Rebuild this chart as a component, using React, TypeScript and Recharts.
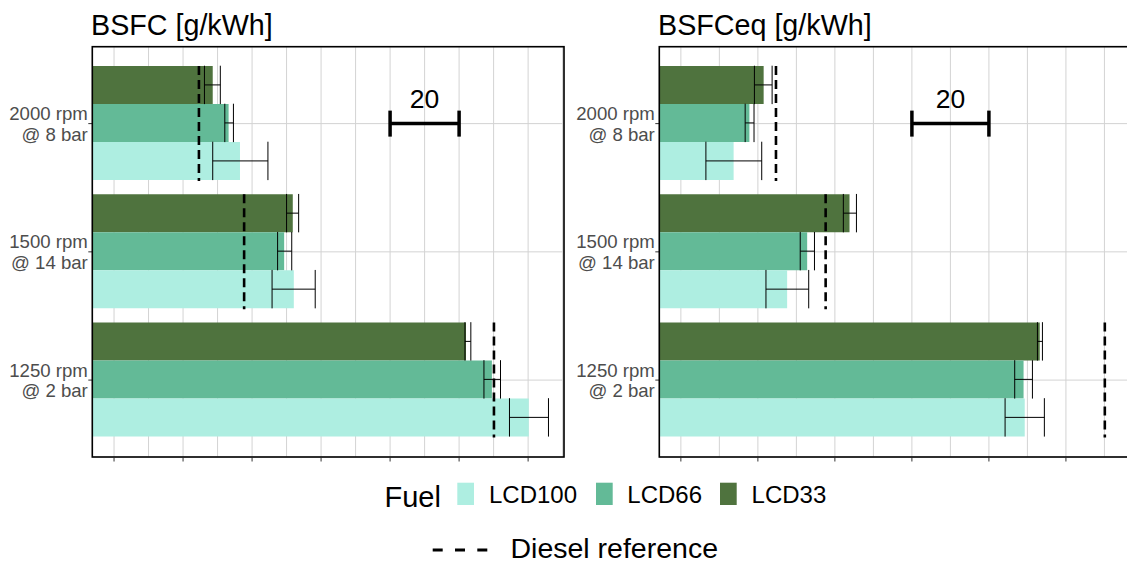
import React from "react";
import {
  BarChart,
  Bar,
  XAxis,
  YAxis,
  CartesianGrid,
  ErrorBar,
  ReferenceLine,
} from "recharts";

// operating points, top to bottom
const conditions = ["2000 rpm\n@ 8 bar", "1500 rpm\n@ 14 bar", "1250 rpm\n@ 2 bar"];

const fuels = ["LCD100", "LCD66", "LCD33"];
const fuelColors = ["#aeeee1", "#63ba97", "#4f733e"];

// BSFC [g/kWh]
const bsfcLCD100 = [256.5, 272.1, 340.2];
const bsfcLCD66 = [253.2, 269.3, 329.5];
const bsfcLCD33 = [248.6, 271.8, 322.0];
const bsfcErrLCD100 = [[7.9, 8.1], [6.3, 6.2], [5.6, 5.7]];
const bsfcErrLCD66 = [[1.1, 1.4], [1.9, 2.2], [2.3, 2.5]];
const bsfcErrLCD33 = [[2.4, 2.2], [1.8, 1.7], [0.3, 1.4]];
const bsfcDiesel = [244.6, 257.7, 330.1];

// BSFCeq [g/kWh]
const bsfceqLCD100 = [233.7, 247.6, 309.3];
const bsfceqLCD66 = [237.8, 252.8, 309.0];
const bsfceqLCD33 = [241.5, 263.8, 313.2];
const bsfceqErrLCD100 = [[7.2, 7.3], [5.5, 5.6], [5.1, 5.1]];
const bsfceqErrLCD66 = [[1.1, 1.2], [1.8, 1.9], [2.3, 2.3]];
const bsfceqErrLCD33 = [[2.4, 2.2], [1.6, 1.8], [0.6, 0.7]];
const bsfceqDiesel = [244.7, 257.6, 330.1];

// x axis: grid every 10, tick marks every 20 (no labels)
const bsfcTicks = [220, 230, 240, 250, 260, 270, 280, 290, 300, 310, 320, 330, 340, 350];
const bsfceqTicks = [220, 230, 240, 250, 260, 270, 280, 290, 300, 310, 320, 330];
const majorTicks = [220, 240, 260, 280, 300, 320, 340];
const bsfcDomain = [213.7, 350.4];
const bsfceqDomain = [214.4, 336.9];
const bsfcScaleBar = [300, 320];
const bsfceqScaleBar = [280, 300];

const FONT = '"Liberation Sans", Arial, Helvetica, sans-serif';
const CHART_W = 570;
const CHART_H = 470;
const PLOT_TOP = 46.7;
const PLOT_BOTTOM = 457;
const BAND_PAD = 12.8;
const BAR_HALF = 19.2;

const buildRows = (
  values: number[][],
  errors: number[][][],
  diesel: number[]
) =>
  conditions.map((condition, i) => {
    const row: Record<string, any> = { condition, diesel: diesel[i] };
    fuels.forEach((f, k) => {
      row[f] = values[k][i];
      row["err" + f] = errors[k][i];
    });
    return row;
  });

const ConditionTick = (props: any) => {
  const { x, y, payload } = props;
  const lines = String(payload.value).split("\n");
  return (
    <text textAnchor="end" fill="#4d4d4d" fontSize={18.6} fontFamily={FONT}>
      <tspan x={x - 0.5} y={y - 3.5}>{lines[0]}</tspan>
      <tspan x={x - 0.5} y={y + 17.3}>{lines[1]}</tspan>
    </text>
  );
};

const XTickMark = (props: any) => {
  const { x, y, payload } = props;
  if (!majorTicks.includes(payload.value)) return <g />;
  return <line x1={x} x2={x} y1={y + 0.8} y2={y + 4.5} stroke="#333" strokeWidth={1} />;
};

const DieselShape = (props: any) => {
  const { x, y, width, height } = props;
  const xe = x + width;
  return (
    <line
      x1={xe}
      x2={xe}
      y1={y}
      y2={y + height}
      stroke="#000"
      strokeWidth={2.6}
      strokeDasharray="9 5"
    />
  );
};

const makeScaleBar = (label: string) => (props: any) => {
  const { x1, y1, x2 } = props;
  return (
    <g>
      <line x1={x1} x2={x2} y1={y1} y2={y1} stroke="#000" strokeWidth={3.5} />
      <line x1={x1} x2={x1} y1={y1 - 13} y2={y1 + 13} stroke="#000" strokeWidth={3.5} />
      <line x1={x2} x2={x2} y1={y1 - 13} y2={y1 + 13} stroke="#000" strokeWidth={3.5} />
      <text
        x={(x1 + x2) / 2}
        y={y1 - 16}
        textAnchor="middle"
        fontSize={26.5}
        fontFamily={FONT}
        fill="#000"
      >
        {label}
      </text>
    </g>
  );
};

interface PanelProps {
  left: number;
  axisWidth: number;
  marginRight: number;
  domain: number[];
  ticks: number[];
  scaleBar: number[];
  values: number[][];
  errors: number[][][];
  diesel: number[];
}

const Panel = ({ left, axisWidth, marginRight, domain, ticks, scaleBar, values, errors, diesel }: PanelProps) => {
  const rows = buildRows(values, errors, diesel);
  const ScaleBar = makeScaleBar(String(scaleBar[1] - scaleBar[0]));
  return (
    <div style={{ position: "absolute", left, top: 0 }}>
      <BarChart
        width={CHART_W}
        height={CHART_H}
        data={rows}
        layout="vertical"
        barCategoryGap="5%"
        barGap={0}
        margin={{ top: PLOT_TOP, right: marginRight, bottom: CHART_H - PLOT_BOTTOM - 8, left: 0 }}
      >
        <CartesianGrid stroke="#d3d3d3" strokeWidth={1} />
        <XAxis
          type="number"
          domain={domain}
          allowDataOverflow
          ticks={ticks}
          interval={0}
          tick={XTickMark}
          tickLine={false}
          axisLine={false}
          tickSize={0}
          tickMargin={0}
          height={8}
        />
        <YAxis
          type="category"
          dataKey="condition"
          width={axisWidth}
          interval={0}
          padding={{ top: BAND_PAD, bottom: BAND_PAD }}
          tick={ConditionTick}
          tickSize={4}
          tickMargin={0}
          tickLine={{ stroke: "#333", strokeWidth: 1 }}
          axisLine={false}
        />
        <YAxis
          yAxisId="ref"
          type="category"
          dataKey="condition"
          hide
          padding={{ top: BAND_PAD, bottom: BAND_PAD }}
        />
        {[2, 1, 0].map((k) => (
          <Bar key={fuels[k]} dataKey={fuels[k]} fill={fuelColors[k]} isAnimationActive={false}>
            <ErrorBar
              dataKey={"err" + fuels[k]}
              direction="x"
              width={BAR_HALF}
              stroke="#000"
              strokeWidth={1}
            />
          </Bar>
        ))}
        <Bar yAxisId="ref" dataKey="diesel" isAnimationActive={false} shape={DieselShape} />
        <ReferenceLine
          segment={[
            { x: scaleBar[0], y: conditions[0] },
            { x: scaleBar[1], y: conditions[0] },
          ]}
          ifOverflow="visible"
          shape={ScaleBar}
        />
      </BarChart>
    </div>
  );
};

export default function App() {
  const plotW = 471.7;
  const plotH = PLOT_BOTTOM - PLOT_TOP;
  const squareX = [457.3, 596, 720];
  const labelX = [489, 627.3, 751.6];
  return (
    <div
      style={{
        position: "absolute",
        left: 0,
        top: 0,
        width: 1127,
        height: 564,
        overflow: "hidden",
        background: "#fff",
        fontFamily: FONT,
      }}
    >
      <Panel
        left={0}
        axisWidth={92.3}
        marginRight={6}
        domain={bsfcDomain}
        ticks={bsfcTicks}
        scaleBar={bsfcScaleBar}
        values={[bsfcLCD100, bsfcLCD66, bsfcLCD33]}
        errors={[bsfcErrLCD100, bsfcErrLCD66, bsfcErrLCD33]}
        diesel={bsfcDiesel}
      />
      <Panel
        left={566}
        axisWidth={93.3}
        marginRight={5}
        domain={bsfceqDomain}
        ticks={bsfceqTicks}
        scaleBar={bsfceqScaleBar}
        values={[bsfceqLCD100, bsfceqLCD66, bsfceqLCD33]}
        errors={[bsfceqErrLCD100, bsfceqErrLCD66, bsfceqErrLCD33]}
        diesel={bsfceqDiesel}
      />
      <svg
        width={1127}
        height={564}
        style={{ position: "absolute", left: 0, top: 0, pointerEvents: "none" }}
        fontFamily={FONT}
      >
        <text x={91} y={35} fontSize={28.7} fill="#000">BSFC [g/kWh]</text>
        <text x={658} y={35} fontSize={28.7} fill="#000">BSFCeq [g/kWh]</text>
        <rect x={92.3} y={PLOT_TOP} width={plotW} height={plotH} fill="none" stroke="#000" strokeWidth={1.6} />
        <rect x={659.3} y={PLOT_TOP} width={plotW} height={plotH} fill="none" stroke="#000" strokeWidth={1.6} />

        {/* legend */}
        <text x={384.5} y={506.7} fontSize={29} fill="#000">Fuel</text>
        {fuels.map((f, k) => (
          <g key={f}>
            <rect x={squareX[k]} y={482.7} width={16.7} height={22.3} fill={fuelColors[k]} />
            <text x={labelX[k]} y={503.3} fontSize={24} fill="#000">{f}</text>
          </g>
        ))}
        <line x1={432.7} x2={487.3} y1={550} y2={550} stroke="#000" strokeWidth={3} strokeDasharray="10 12.3" />
        <text x={510.5} y={558} fontSize={28.5} fill="#000">Diesel reference</text>
      </svg>
    </div>
  );
}
